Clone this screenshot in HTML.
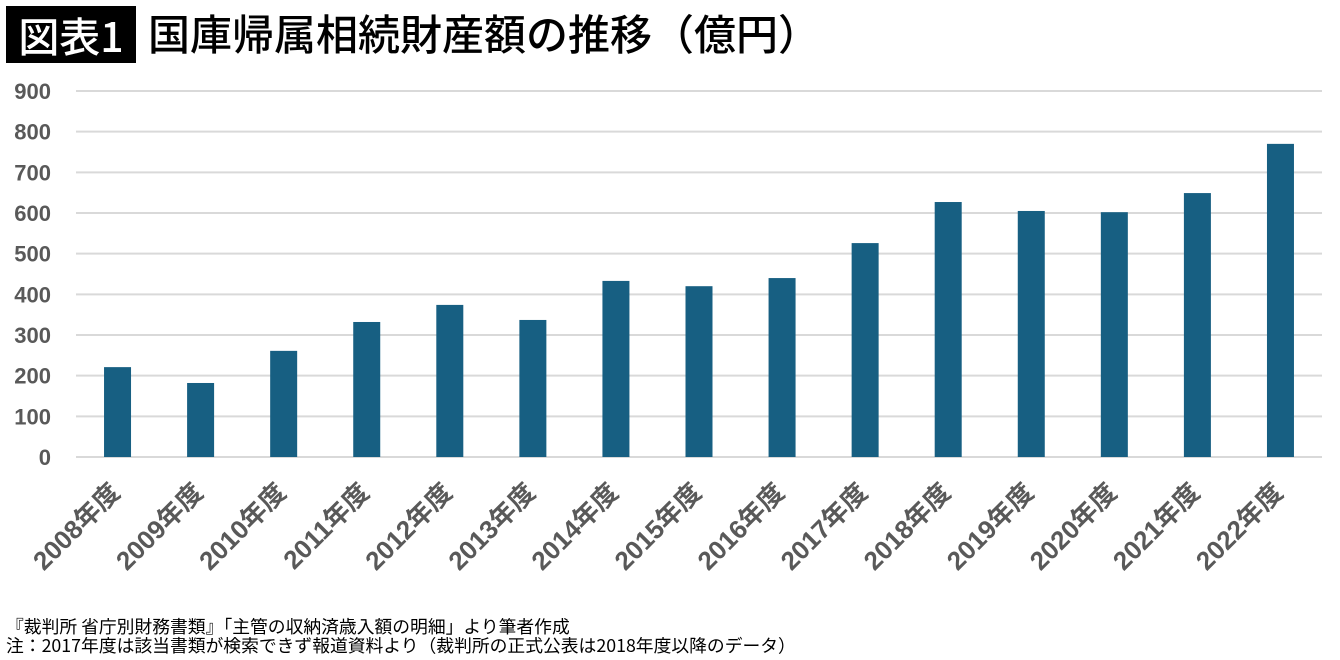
<!DOCTYPE html>
<html><head><meta charset="utf-8">
<style>
body{margin:0;width:1340px;height:660px;background:#fff;overflow:hidden;font-family:"Liberation Sans","Noto Sans CJK JP",sans-serif;position:relative}
#badge{position:absolute;left:6px;top:6px;width:130px;height:57px;background:#000;color:#fff;font-size:41px;line-height:57px;text-align:center;font-family:"Noto Sans CJK JP",sans-serif;font-weight:500}
#title{position:absolute;left:148px;top:4px;font-size:42px;line-height:57px;color:#000;font-family:"Noto Sans CJK JP",sans-serif;font-weight:500;white-space:nowrap}
.note{position:absolute;left:6px;font-size:17.8px;color:#000;font-family:"Noto Sans CJK JP",sans-serif;white-space:nowrap;line-height:19px}
</style></head><body>
<div id="badge">図表1</div>
<div id="title">国庫帰属相続財産額の推移（億円）</div>
<svg id="chart" width="1340" height="660" style="position:absolute;left:0;top:0"></svg>
<div class="note" style="top:617px">『裁判所 省庁別財務書類』「主管の収納済歳入額の明細」より筆者作成</div>
<div class="note" style="top:636px">注：2017年度は該当書類が検索できず報道資料より（裁判所の正式公表は2018年度以降のデータ）</div>
<script>
const categories=["2008年度","2009年度","2010年度","2011年度","2012年度","2013年度","2014年度","2015年度","2016年度","2017年度","2018年度","2019年度","2020年度","2021年度","2022年度"];
const values=[221,182,261,332,374,337,433,420,440,526,627,605,602,649,770];
const yTicks=[0,100,200,300,400,500,600,700,800,900];
const NS="http://www.w3.org/2000/svg";
const svg=document.getElementById('chart');
const x0=76,x1=1322,y0=457,yTop=91,yMax=900;
const band=(x1-x0)/categories.length;
const y=v=>y0-(v/yMax)*(y0-yTop);
const xc=i=>x0+band*(i+0.5);
function mk(t,a){const e=document.createElementNS(NS,t);for(const k in a)e.setAttribute(k,a[k]);svg.appendChild(e);return e;}
yTicks.forEach(t=>{
  const l=mk('line',{x1:x0,x2:x1,y1:y(t),y2:y(t),stroke:'#d9d9d9','stroke-width':2});
  
  
  const tx=mk('text',{x:51,y:y(t)+8,'text-anchor':'end','font-size':22,'font-weight':'bold',fill:'#595959','font-family':'"Liberation Sans",sans-serif'});
  tx.textContent=t;
  
  
});
values.forEach((v,i)=>{
  const r=mk('rect',{x:xc(i)-13.5,y:y(v),width:27,height:y0-y(v),fill:'#175f82'});
  
  
});
categories.forEach((c,i)=>{
  const cx=xc(i)+4,cy=494;
  const t=mk('text',{x:cx,y:cy,'text-anchor':'end','font-size':26,'font-weight':'bold',fill:'#595959','font-family':'"Liberation Sans","Noto Sans CJK JP",sans-serif',transform:`rotate(-45 ${cx} ${cy})`});
  t.textContent=c;
  
  
});
</script>
</body></html>
